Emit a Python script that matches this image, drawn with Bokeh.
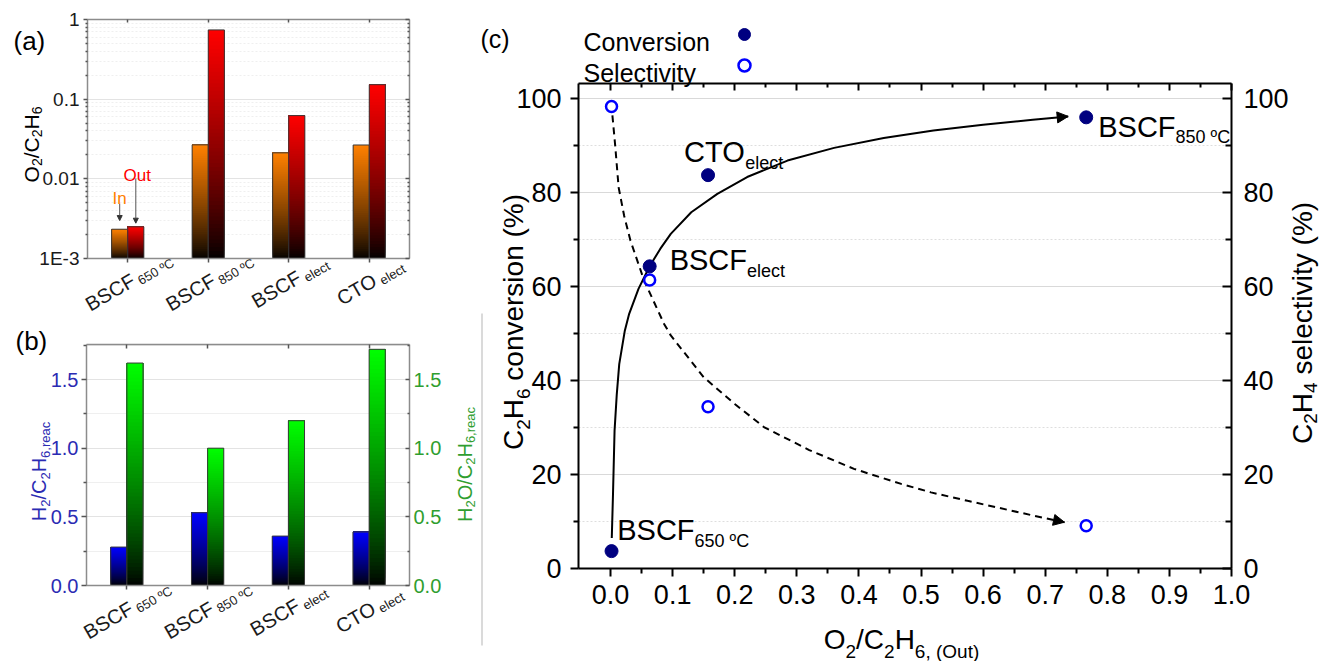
import math
from bokeh.plotting import figure
from bokeh.layouts import row, column
from bokeh.models import (Label, Range1d, FixedTicker, LinearAxis, LogAxis, Arrow, NormalHead,
                          Legend, LegendItem, PrintfTickFormatter, CustomJSTickFormatter)
from bokeh.embed import file_html
from bokeh.resources import INLINE

# ---------------- data ----------------
cat_main = ["BSCF", "BSCF", "BSCF", "CTO"]
cat_sub = ["650 ºC", "850 ºC", "elect", "elect"]

# (a) O2/C2H6 ratio at inlet and outlet
o2_in = [0.00233, 0.0267, 0.0212, 0.0266]
o2_out = [0.0025, 0.74, 0.0622, 0.152]
a_ticks = [0.001, 0.01, 0.1, 1]
a_tick_labels = ["1E-3", "0.01", "0.1", "1"]

# (b) H2/C2H6,reac and H2O/C2H6,reac
h2_ratio = [0.28, 0.53, 0.36, 0.39]
h2o_ratio = [1.62, 1.00, 1.20, 1.72]
b_ticks = [0.0, 0.5, 1.0, 1.5]

# (c) conversion / selectivity vs O2/C2H6 (out)
o2_out_c = [0.0016, 0.063, 0.157, 0.766]
conversion = [3.7, 64.3, 83.7, 96.0]
selectivity = [98.3, 61.4, 34.4, 9.1]
point_main = ["BSCF", "BSCF", "CTO", "BSCF"]
point_sub = ["650 ºC", "elect", "elect", "850 ºC"]
c_xticks = [0.0, 0.1, 0.2, 0.3, 0.4, 0.5, 0.6, 0.7, 0.8, 0.9, 1.0]
c_yticks = [0, 20, 40, 60, 80, 100]

# hand-drawn guide curves
guide_conv_x = [0.002, 0.004, 0.0065, 0.010, 0.014, 0.023, 0.030, 0.045, 0.063, 0.080, 0.097,
                0.130, 0.172, 0.220, 0.285, 0.360, 0.440, 0.520, 0.600, 0.680, 0.737]
guide_conv_y = [6.5, 16.0, 29.4, 37.0, 43.5, 50.6, 54.2, 59.5, 64.3, 68.0, 71.2,
                75.8, 79.7, 83.3, 86.8, 89.5, 91.6, 93.2, 94.4, 95.5, 96.2]
guide_sel_x = [0.003, 0.0075, 0.013, 0.022, 0.032, 0.054, 0.086, 0.097, 0.150, 0.200,
               0.247, 0.320, 0.392, 0.468, 0.516, 0.575, 0.683, 0.731]
guide_sel_y = [96.4, 90.0, 81.1, 75.0, 69.8, 61.3, 52.1, 49.6, 40.7, 35.0,
               30.1, 25.2, 21.2, 18.0, 16.2, 14.4, 11.2, 9.85]

# ---------------- helpers ----------------
FONT = "Liberation Sans"
EMW = {' ': 0.278, '(': 0.333, ')': 0.333, '%': 0.889, ',': 0.278, '.': 0.278, '/': 0.278,
       '-': 0.333, 'º': 0.365, '°': 0.4, 'A': 0.667, 'B': 0.667, 'C': 0.722, 'E': 0.667,
       'F': 0.611, 'H': 0.722, 'I': 0.278, 'O': 0.778, 'S': 0.667, 'T': 0.611, 'a': 0.556,
       'c': 0.5, 'e': 0.556, 'i': 0.222, 'l': 0.222, 'n': 0.556, 'o': 0.556, 'r': 0.333,
       's': 0.5, 't': 0.278, 'u': 0.556, 'v': 0.5, 'y': 0.5}


def tw(s, size):
    return sum(EMW.get(ch, 0.556) for ch in s) * size


def rich(p, pieces, x, y, dx=0.0, dy=0.0, angle=0.0, align="left", color="black"):
    """pieces: (text, font px, downward baseline shift px)"""
    total = sum(tw(t, s) for t, s, _ in pieces)
    pos = {"left": 0.0, "center": -total / 2, "right": -total}[align]
    ca, sa = math.cos(angle), math.sin(angle)
    for t, s, sh in pieces:
        core = t.lstrip(" ")
        pos += tw(t[:len(t) - len(core)], s)
        ox = dx + pos * ca + sh * sa
        oy = dy + pos * sa - sh * ca
        p.add_layout(Label(x=x, y=y, x_offset=ox, y_offset=oy, text=core, angle=angle,
                           text_font=FONT, text_font_size=f"{s}px", text_color=color,
                           text_align="left", text_baseline="alphabetic"))
        pos += tw(core, s)


def shade(hex_top, t):
    r, g, b = int(hex_top[1:3], 16), int(hex_top[3:5], 16), int(hex_top[5:7], 16)
    return "#%02x%02x%02x" % (round(r * t), round(g * t), round(b * t))


def gradient_bars(p, lefts, rights, tops, base, color, log=False, n=60):
    L, R, B, T, C = [], [], [], [], []
    for l, r, top in zip(lefts, rights, tops):
        for k in range(n):
            f = k / n
            y0 = base * (top / base) ** f if log else base + (top - base) * f
            L.append(l); R.append(r); B.append(y0); T.append(top)
            C.append(shade(color, ((k + 0.5) / n) ** 0.8))
    p.quad(left=L, right=R, bottom=B, top=T, fill_color=C, line_color=None)
    p.quad(left=lefts, right=rights, bottom=[base] * len(tops), top=tops,
           fill_color=None, line_color="#3a3a3a", line_width=1)


def style_axis(ax, size=0, color="black", line_color="black", lw=1.0,
               mj_out=0, mj_in=0, mn_out=0, mn_in=0, standoff=4, tick_color=None):
    ax.axis_line_color = line_color
    ax.axis_line_width = lw
    ax.major_tick_line_color = tick_color or line_color
    ax.minor_tick_line_color = tick_color or line_color
    ax.major_tick_line_width = lw
    ax.minor_tick_line_width = lw
    ax.major_tick_out = mj_out
    ax.major_tick_in = mj_in
    ax.minor_tick_out = mn_out
    ax.minor_tick_in = mn_in
    ax.major_label_text_font = FONT
    ax.major_label_text_font_size = f"{size}px"
    ax.major_label_text_color = color
    ax.major_label_standoff = standoff


def blank():
    return CustomJSTickFormatter(code="return ''")


def canvas_range(lo, hi, p_lo, p_hi, c_hi, log=False):
    """data lo..hi sits at pixels p_lo..p_hi (measured from the low canvas edge);
    return the data range spanning the full canvas 0..c_hi"""
    if log:
        lo, hi = math.log10(lo), math.log10(hi)
    k = (hi - lo) / (p_hi - p_lo)
    a, b = lo - p_lo * k, hi + (c_hi - p_hi) * k
    return (10 ** a, 10 ** b) if log else (a, b)


def hgrid(p, x0, x1, color, minor_color, minor_dash=None):
    g = p.ygrid[0]
    g.grid_line_color = color
    g.minor_grid_line_color = minor_color
    if minor_dash:
        g.minor_grid_line_dash = minor_dash
    if "cross_bounds" in g.properties():
        g.cross_bounds = (x0, x1)
    p.xgrid.visible = False


pos = [i + 0.5 for i in range(len(cat_main))]
GRAY = "#8c8c8c"
TICKG = "#555555"
CAT_ANGLE = math.radians(30)
SPLIT = 316  # page row where panel (a) ends and panel (b) begins

# ---------------- panel (a) ----------------
AW, AH = 480, SPLIT
ax_r = canvas_range(0, 4, 87, 409, AW)
ay_r = canvas_range(1e-3, 1, AH - 258, AH - 19, AH, log=True)
pa = figure(width=AW, height=AH, x_range=Range1d(*ax_r), y_range=Range1d(*ay_r),
            y_axis_type="log", output_backend="svg", toolbar_location=None, title=None,
            min_border=0)
pa.outline_line_color = None
a_minor = [k * 10.0 ** e for e in (-3, -2, -1) for k in range(2, 10)]
a_ticker = FixedTicker(ticks=a_ticks, minor_ticks=a_minor)
cat_ticker = FixedTicker(ticks=pos, minor_ticks=[])

la = pa.yaxis[0]
la.ticker = a_ticker
la.fixed_location = 0
la.bounds = (1e-3, 1)
la.formatter = CustomJSTickFormatter(args=dict(tv=a_ticks, tl=a_tick_labels),
                                     code="const i = tv.indexOf(tick); return i < 0 ? '' : tl[i];")
style_axis(la, 19, "#1a1a1a", GRAY, 1.5, mj_out=4, mn_out=2, standoff=4, tick_color=TICKG)
ra = LogAxis(ticker=a_ticker, formatter=blank(), fixed_location=4, bounds=(1e-3, 1))
style_axis(ra, 1, "white", GRAY, 1.5, mj_in=4, mn_in=2, tick_color=TICKG)
pa.add_layout(ra, "right")
ba = pa.xaxis[0]
ba.ticker = cat_ticker
ba.formatter = blank()
ba.fixed_location = 1e-3
ba.bounds = (0, 4)
style_axis(ba, 1, "white", GRAY, 1.5, mj_out=4, standoff=0, tick_color=TICKG)
ta = LinearAxis(ticker=cat_ticker, formatter=blank(), fixed_location=1, bounds=(0, 4))
style_axis(ta, 1, "white", GRAY, 1.5, mj_in=3, standoff=0, tick_color=TICKG)
pa.add_layout(ta, "above")
hgrid(pa, 0, 4, "#e3e3e3", "#efefef", "2 2")

gradient_bars(pa, [x - 0.2 for x in pos], pos, o2_in, 1e-3, "#ff8000", log=True)
gradient_bars(pa, pos, [x + 0.2 for x in pos], o2_out, 1e-3, "#ff0000", log=True)

dec = (258 - 19) / 3.0  # px per decade
pa.add_layout(Arrow(end=NormalHead(size=5, fill_color="#333333", line_color="#333333"),
                    x_start=pos[0] - 0.1, y_start=o2_in[0] * 10 ** (25.7 / dec),
                    x_end=pos[0] - 0.1, y_end=o2_in[0] * 10 ** (8.7 / dec),
                    line_color="#555555", line_width=1))
pa.add_layout(Arrow(end=NormalHead(size=5, fill_color="#333333", line_color="#333333"),
                    x_start=pos[0] + 0.1, y_start=o2_out[0] * 10 ** (48.3 / dec),
                    x_end=pos[0] + 0.1, y_end=o2_out[0] * 10 ** (3.6 / dec),
                    line_color="#555555", line_width=1))
rich(pa, [("In", 17, 0)], pos[0] - 0.1, o2_in[0], dx=0, dy=30.7, align="center", color="#ff8000")
rich(pa, [("Out", 17, 0)], pos[0] + 0.1, o2_out[0], dx=1.5, dy=51.3, align="center", color="#ff0000")

for i in range(len(cat_main)):
    rich(pa, [(cat_main[i], 20, 0), (" " + cat_sub[i], 13, 5)], pos[i], 1e-3,
         dx=1, dy=-23, angle=CAT_ANGLE, align="center", color="#1a1a1a")
rich(pa, [("O", 21, 0), ("2", 14, 5), ("/C", 21, 0), ("2", 14, 5), ("H", 21, 0), ("6", 14, 5)],
     0, 1e-3, dx=-56, dy=114, angle=math.pi / 2, align="center")
rich(pa, [("(a)", 26, 0)], 0, 1e-3, dx=-74, dy=218)

# ---------------- panel (b) ----------------
BW, BH = 480, 661 - SPLIT
B_TOP = 1.755
bx_r = canvas_range(0, 4, 86, 409, BW)
by_r = canvas_range(0, B_TOP, 661 - 585, 661 - 344, BH)
pb = figure(width=BW, height=BH, x_range=Range1d(*bx_r), y_range=Range1d(*by_r),
            output_backend="svg", toolbar_location=None, title=None, min_border=0)
pb.outline_line_color = None
b_ticker = FixedTicker(ticks=b_ticks, minor_ticks=[0.25, 0.75, 1.25, 1.75])
BLUE_T = "#2b2bb3"
GREEN_T = "#2f9e2f"
lb = pb.yaxis[0]
lb.ticker = b_ticker
lb.formatter = PrintfTickFormatter(format="%.1f")
lb.fixed_location = 0
lb.bounds = (0, B_TOP)
style_axis(lb, 20, BLUE_T, GRAY, 1.5, mj_out=5, mn_out=3, standoff=3, tick_color=TICKG)
rb = LinearAxis(ticker=b_ticker, formatter=PrintfTickFormatter(format="%.1f"),
                fixed_location=4, bounds=(0, B_TOP))
style_axis(rb, 20, GREEN_T, GRAY, 1.5, mj_in=4, mn_in=2, standoff=4, tick_color=TICKG)
pb.add_layout(rb, "right")
bb = pb.xaxis[0]
bb.ticker = cat_ticker
bb.formatter = blank()
bb.fixed_location = 0
bb.bounds = (0, 4)
style_axis(bb, 1, "white", GRAY, 1.5, mj_out=4, standoff=0, tick_color=TICKG)
tb = LinearAxis(ticker=cat_ticker, formatter=blank(), fixed_location=B_TOP, bounds=(0, 4))
style_axis(tb, 1, "white", GRAY, 1.5, mj_in=4, standoff=0, tick_color=TICKG)
pb.add_layout(tb, "above")
hgrid(pb, 0, 4, "#e3e3e3", "#efefef")

gradient_bars(pb, [x - 0.2 for x in pos], pos, h2_ratio, 0.0, "#0000ff")
gradient_bars(pb, pos, [x + 0.2 for x in pos], h2o_ratio, 0.0, "#00ff00")

for i in range(len(cat_main)):
    rich(pb, [(cat_main[i], 20, 0), (" " + cat_sub[i], 13, 5)], pos[i], 0,
         dx=0, dy=-24, angle=CAT_ANGLE, align="center", color="#1a1a1a")
rich(pb, [("H", 20, 0), ("2", 13, 7), ("/C", 20, 0), ("2", 13, 7), ("H", 20, 0), ("6,reac", 13, 7)],
     0, 0, dx=-48, dy=114, angle=math.pi / 2, align="center", color=BLUE_T)
rich(pb, [("H", 20, 0), ("2", 13, 6), ("O/C", 20, 0), ("2", 13, 6), ("H", 20, 0), ("6,reac", 13, 6)],
     4, 0, dx=55, dy=121, angle=math.pi / 2, align="center", color=GREEN_T)
rich(pb, [("(b)", 26, 0)], 0, 0, dx=-71, dy=245)

# ---------------- panel (c) ----------------
CW, CH = 842, 661
CX0, CX1, CY0, CY1 = -0.0516, 1.0, 0.0, 103.2
cx_r = canvas_range(CX0, CX1, 98, 751, CW)
cy_r = canvas_range(CY0, CY1, CH - 568, CH - 83, CH)
pc = figure(width=CW, height=CH, x_range=Range1d(*cx_r), y_range=Range1d(*cy_r),
            output_backend="svg", toolbar_location=None, title=None, min_border=0)
pc.outline_line_color = None
cx_ticker = FixedTicker(ticks=c_xticks, minor_ticks=[0.05 + 0.1 * k for k in range(10)])
cy_ticker = FixedTicker(ticks=c_yticks, minor_ticks=[10, 30, 50, 70, 90])
lc = pc.yaxis[0]
lc.ticker = cy_ticker
lc.fixed_location = CX0
lc.bounds = (CY0, CY1)
style_axis(lc, 27, "black", "black", 2, mj_out=8, mn_out=5, standoff=9)
rc = LinearAxis(ticker=cy_ticker, fixed_location=CX1, bounds=(CY0, CY1))
style_axis(rc, 27, "black", "black", 2, mj_in=9, mn_in=6, standoff=12)
pc.add_layout(rc, "right")
bc = pc.xaxis[0]
bc.ticker = cx_ticker
bc.formatter = PrintfTickFormatter(format="%.1f")
bc.fixed_location = CY0
bc.bounds = (CX0, CX1)
style_axis(bc, 27, "black", "black", 2, mj_out=8, mn_out=5, standoff=8)
tc = LinearAxis(ticker=cx_ticker, formatter=blank(), fixed_location=CY1, bounds=(CX0, CX1))
style_axis(tc, 1, "white", "black", 2, mj_in=7, mn_in=4, standoff=0)
pc.add_layout(tc, "above")
hgrid(pc, CX0, CX1, "#d9d9d9", "#dedede", "2 2")

# thin separator line seen at the left edge of panel (c)
sep_x = cx_r[0] + 1.5 * (cx_r[1] - cx_r[0]) / CW
pc.segment(x0=[sep_x], x1=[sep_x], y0=[cy_r[0] + 16 * (cy_r[1] - cy_r[0]) / CH],
           y1=[cy_r[1] - 313 * (cy_r[1] - cy_r[0]) / CH], line_color="#b5b5b5", line_width=1)

pc.line(guide_conv_x, guide_conv_y, line_color="black", line_width=2)
pc.line(guide_sel_x, guide_sel_y, line_color="black", line_width=2, line_dash="7 5")
pc.add_layout(Arrow(end=NormalHead(size=11, fill_color="black", line_color="black"),
                    x_start=guide_conv_x[-2], y_start=guide_conv_y[-2],
                    x_end=guide_conv_x[-1], y_end=guide_conv_y[-1], line_alpha=0))
pc.add_layout(Arrow(end=NormalHead(size=11, fill_color="black", line_color="black"),
                    x_start=guide_sel_x[-2], y_start=guide_sel_y[-2],
                    x_end=guide_sel_x[-1], y_end=guide_sel_y[-1], line_alpha=0))

conv_r = pc.scatter(o2_out_c, conversion, marker="circle", size=13,
                    fill_color="#000080", line_color="#000080")
sel_r = pc.scatter(o2_out_c, selectivity, marker="circle", size=11,
                   fill_color="white", line_color="#0000ff", line_width=2.5)

legend = Legend(items=[LegendItem(label=" ", renderers=[conv_r]),
                       LegendItem(label=" ", renderers=[sel_r])],
                location=(249, CH - 80), padding=0, margin=0, spacing=1,
                glyph_width=30, glyph_height=30, label_width=0, label_height=30,
                label_standoff=0, label_text_font_size="1px",
                border_line_alpha=0, background_fill_alpha=0)
pc.add_layout(legend)
rich(pc, [("Conversion", 25, 0)], CX0, CY0, dx=5, dy=526.3)
rich(pc, [("Selectivity", 25, 0)], CX0, CY0, dx=5, dy=496)
rich(pc, [("(c)", 25, 0)], CX0, CY0, dx=-98, dy=530)

label_offsets = [(5.7, 20.7), (20, 6.4), (-24, 23.3), (12, -9.3)]
for i in range(len(o2_out_c)):
    ox, oy = label_offsets[i]
    rich(pc, [(point_main[i], 29, 0), (point_sub[i], 18, 10.7)],
         o2_out_c[i], conversion[i], dx=ox, dy=oy)

rich(pc, [("O", 28, 0), ("2", 19, 12), ("/C", 28, 0), ("2", 19, 12), ("H", 28, 0), ("6, (Out)", 19, 12)],
     (CX0 + CX1) / 2, CY0, dx=-3.5, dy=-71, align="center")
rich(pc, [("C", 28, 0), ("2", 19, 10), ("H", 28, 0), ("6", 19, 10), (" conversion (%)", 28, 0)],
     CX0, CY0, dx=-65, dy=246.5, angle=math.pi / 2, align="center")
rich(pc, [("C", 28, 0), ("2", 19, 8), ("H", 28, 0), ("4", 19, 8), (" selectivity (%)", 28, 0)],
     CX1, CY0, dx=71, dy=245.6, angle=math.pi / 2, align="center")

layout = row(column(pa, pb), pc)
open("out.html", "w").write(file_html(layout, INLINE))
